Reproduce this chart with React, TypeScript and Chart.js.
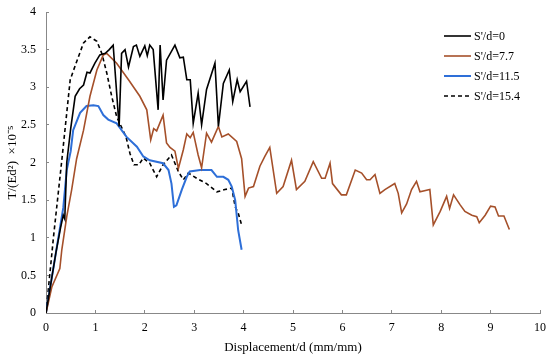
import React, { useEffect, useRef } from "react";
import { Chart, registerables } from "chart.js";

Chart.register(...registerables);

const seriesLabels = ["S'/d=0", "S'/d=7.7", "S'/d=11.5", "S'/d=15.4"];

const s0X = [0, 0.1, 0.2, 0.3, 0.35, 0.38, 0.42, 0.5, 0.59, 0.68, 0.76, 0.83, 0.89, 0.99, 1.09, 1.2, 1.28, 1.36, 1.48, 1.53, 1.6, 1.67, 1.77, 1.83, 1.9, 2.0, 2.05, 2.1, 2.17, 2.27, 2.31, 2.37, 2.44, 2.61, 2.71, 2.78, 2.85, 2.92, 2.98, 3.08, 3.15, 3.25, 3.42, 3.49, 3.59, 3.71, 3.78, 3.87, 3.93, 4.06, 4.13];
const s0Y = [0, 0.4, 0.8, 1.15, 1.3, 1.25, 2.0, 2.45, 2.88, 2.98, 3.03, 3.2, 3.19, 3.32, 3.43, 3.45, 3.5, 3.56, 2.48, 3.45, 3.5, 3.27, 3.54, 3.56, 3.41, 3.55, 3.42, 3.56, 3.5, 2.7, 3.56, 2.83, 3.36, 3.56, 3.39, 3.4, 3.1, 3.1, 2.52, 2.92, 2.5, 2.97, 3.32, 2.48, 3.05, 3.23, 2.81, 3.1, 2.94, 3.08, 2.74];

const s1X = [0, 0.12, 0.28, 0.32, 0.42, 0.52, 0.62, 0.76, 0.89, 1.03, 1.16, 1.23, 1.43, 1.67, 1.9, 2.04, 2.12, 2.18, 2.24, 2.37, 2.44, 2.51, 2.61, 2.68, 2.78, 2.85, 2.92, 2.98, 3.08, 3.15, 3.25, 3.35, 3.49, 3.56, 3.69, 3.86, 3.96, 4.03, 4.1, 4.2, 4.33, 4.43, 4.53, 4.67, 4.8, 4.97, 5.07, 5.24, 5.41, 5.58, 5.65, 5.75, 5.8, 5.98, 6.08, 6.26, 6.39, 6.49, 6.56, 6.66, 6.76, 6.86, 7.06, 7.13, 7.2, 7.3, 7.4, 7.5, 7.57, 7.77, 7.84, 7.98, 8.11, 8.17, 8.25, 8.38, 8.48, 8.62, 8.72, 8.77, 8.89, 9.0, 9.09, 9.16, 9.27, 9.38];
const s1Y = [0, 0.35, 0.59, 0.84, 1.28, 1.64, 2.05, 2.43, 2.88, 3.23, 3.43, 3.45, 3.32, 3.1, 2.88, 2.7, 2.3, 2.45, 2.42, 2.63, 2.26, 2.2, 2.15, 1.92, 2.17, 2.38, 2.33, 2.4, 2.1, 1.93, 2.39, 2.27, 2.48, 2.34, 2.38, 2.28, 2.05, 1.55, 1.66, 1.68, 1.95, 2.08, 2.2, 1.59, 1.68, 2.03, 1.64, 1.75, 2.01, 1.79, 1.79, 1.99, 1.72, 1.57, 1.57, 1.9, 1.86, 1.77, 1.77, 1.84, 1.59, 1.64, 1.72, 1.59, 1.33, 1.45, 1.64, 1.75, 1.61, 1.64, 1.17, 1.35, 1.55, 1.39, 1.57, 1.44, 1.35, 1.3, 1.28, 1.2, 1.3, 1.42, 1.41, 1.29, 1.29, 1.11];

const s2X = [0, 0.2, 0.35, 0.42, 0.5, 0.55, 0.69, 0.82, 0.96, 1.06, 1.16, 1.26, 1.43, 1.63, 1.84, 1.97, 2.1, 2.37, 2.48, 2.54, 2.59, 2.64, 2.75, 2.85, 2.91, 3.12, 3.35, 3.46, 3.59, 3.69, 3.76, 3.83, 3.89, 3.96];
const s2Y = [0, 0.8, 1.4, 1.9, 2.15, 2.43, 2.66, 2.75, 2.76, 2.75, 2.63, 2.57, 2.52, 2.34, 2.21, 2.08, 2.03, 1.99, 1.9, 1.72, 1.41, 1.43, 1.64, 1.81, 1.88, 1.9, 1.9, 1.81, 1.81, 1.77, 1.68, 1.5, 1.1, 0.84];

const s3X = [0, 0.15, 0.32, 0.49, 0.62, 0.76, 0.89, 1.03, 1.13, 1.23, 1.33, 1.43, 1.62, 1.7, 1.78, 1.88, 1.97, 2.1, 2.24, 2.37, 2.54, 2.68, 2.78, 2.88, 3.05, 3.25, 3.46, 3.62, 3.76, 3.83, 3.89, 3.96];
const s3Y = [0, 1.0, 2.03, 3.1, 3.34, 3.59, 3.67, 3.61, 3.45, 3.19, 2.88, 2.61, 2.34, 2.12, 1.97, 1.97, 2.06, 1.99, 1.81, 1.97, 2.1, 1.88, 1.77, 1.86, 1.79, 1.72, 1.61, 1.64, 1.66, 1.41, 1.33, 1.17];

const seriesColors = ["#000000", "#A5502A", "#2E6FD8", "#000000"];
const seriesWidths = [1.6, 1.6, 2, 1.6];
const seriesDash: number[][] = [[], [], [], [4, 3]];

const xTitle = "Displacement/d (mm/mm)";
const yTitle = "T/(Ed\u00B2)  \u00D710\u207B\u2075";

const FONT = "'Liberation Serif', 'Times New Roman', serif";

const toPts = (xs: number[], ys: number[]) => xs.map((x, i) => ({ x, y: ys[i] }));

const legendPlugin = {
  id: "insideLegend",
  afterDraw(chart: any) {
    const ctx = chart.ctx;
    const ds = chart.data.datasets;
    ctx.save();
    ctx.font = "12px " + FONT;
    ctx.textBaseline = "middle";
    ctx.textAlign = "left";
    ds.forEach((d: any, i: number) => {
      const y = 36 + i * 20;
      ctx.beginPath();
      ctx.strokeStyle = d.borderColor;
      ctx.lineWidth = d.borderWidth;
      ctx.setLineDash(d.borderDash || []);
      ctx.moveTo(444, y);
      ctx.lineTo(471, y);
      ctx.stroke();
      ctx.setLineDash([]);
      ctx.fillStyle = "#000";
      ctx.fillText(d.label, 474, y + 1);
    });
    ctx.restore();
  },
};

const fmt = (v: any) => String(Number(v));

const zeroPad = (s: any) => {
  s.paddingTop = 0;
  s.paddingBottom = 0;
  s.paddingLeft = 0;
  s.paddingRight = 0;
};

export default function App() {
  const ref = useRef<HTMLCanvasElement | null>(null);
  useEffect(() => {
    document.body.style.margin = "0";
    if (!ref.current) return;
    const data = [toPts(s0X, s0Y), toPts(s1X, s1Y), toPts(s2X, s2Y), toPts(s3X, s3Y)];
    const chart = new Chart(ref.current, {
      type: "line",
      data: {
        datasets: data.map((d, i) => ({
          label: seriesLabels[i],
          data: d,
          borderColor: seriesColors[i],
          backgroundColor: seriesColors[i],
          borderWidth: seriesWidths[i],
          borderDash: seriesDash[i],
          pointRadius: 0,
          tension: 0,
          fill: false,
        })),
      },
      options: {
        animation: false,
        responsive: false,
        layout: { padding: { left: 0, right: 10, top: 12, bottom: 0 } },
        plugins: { legend: { display: false }, tooltip: { enabled: false } },
        scales: {
          x: {
            type: "linear",
            min: 0,
            max: 10,
            ticks: { stepSize: 1, color: "#000", font: { family: FONT, size: 12 }, padding: 11, callback: fmt, maxRotation: 0 },
            grid: { display: true, drawOnChartArea: false, color: "#888", tickLength: -3 },
            border: { color: "#888", width: 1 },
            title: { display: true, text: xTitle, color: "#000", font: { family: FONT, size: 13 }, padding: { top: 0, bottom: 5 } },
            afterFit: (s: any) => { s.height = 47; zeroPad(s); },
          },
          y: {
            type: "linear",
            min: 0,
            max: 4,
            ticks: { stepSize: 0.5, color: "#000", font: { family: FONT, size: 12 }, padding: 13, callback: fmt },
            grid: { display: true, drawOnChartArea: false, color: "#888", tickLength: -3 },
            border: { color: "#888", width: 1 },
            title: { display: true, text: yTitle, color: "#000", font: { family: FONT, size: 13 }, padding: { top: 5, bottom: 0 } },
            afterFit: (s: any) => { s.width = 46; zeroPad(s); },
          },
        },
      },
      plugins: [legendPlugin],
    } as any);
    return () => chart.destroy();
  }, []);
  return <canvas ref={ref} width={550} height={360} style={{ display: "block", width: 550, height: 360 }} />;
}
